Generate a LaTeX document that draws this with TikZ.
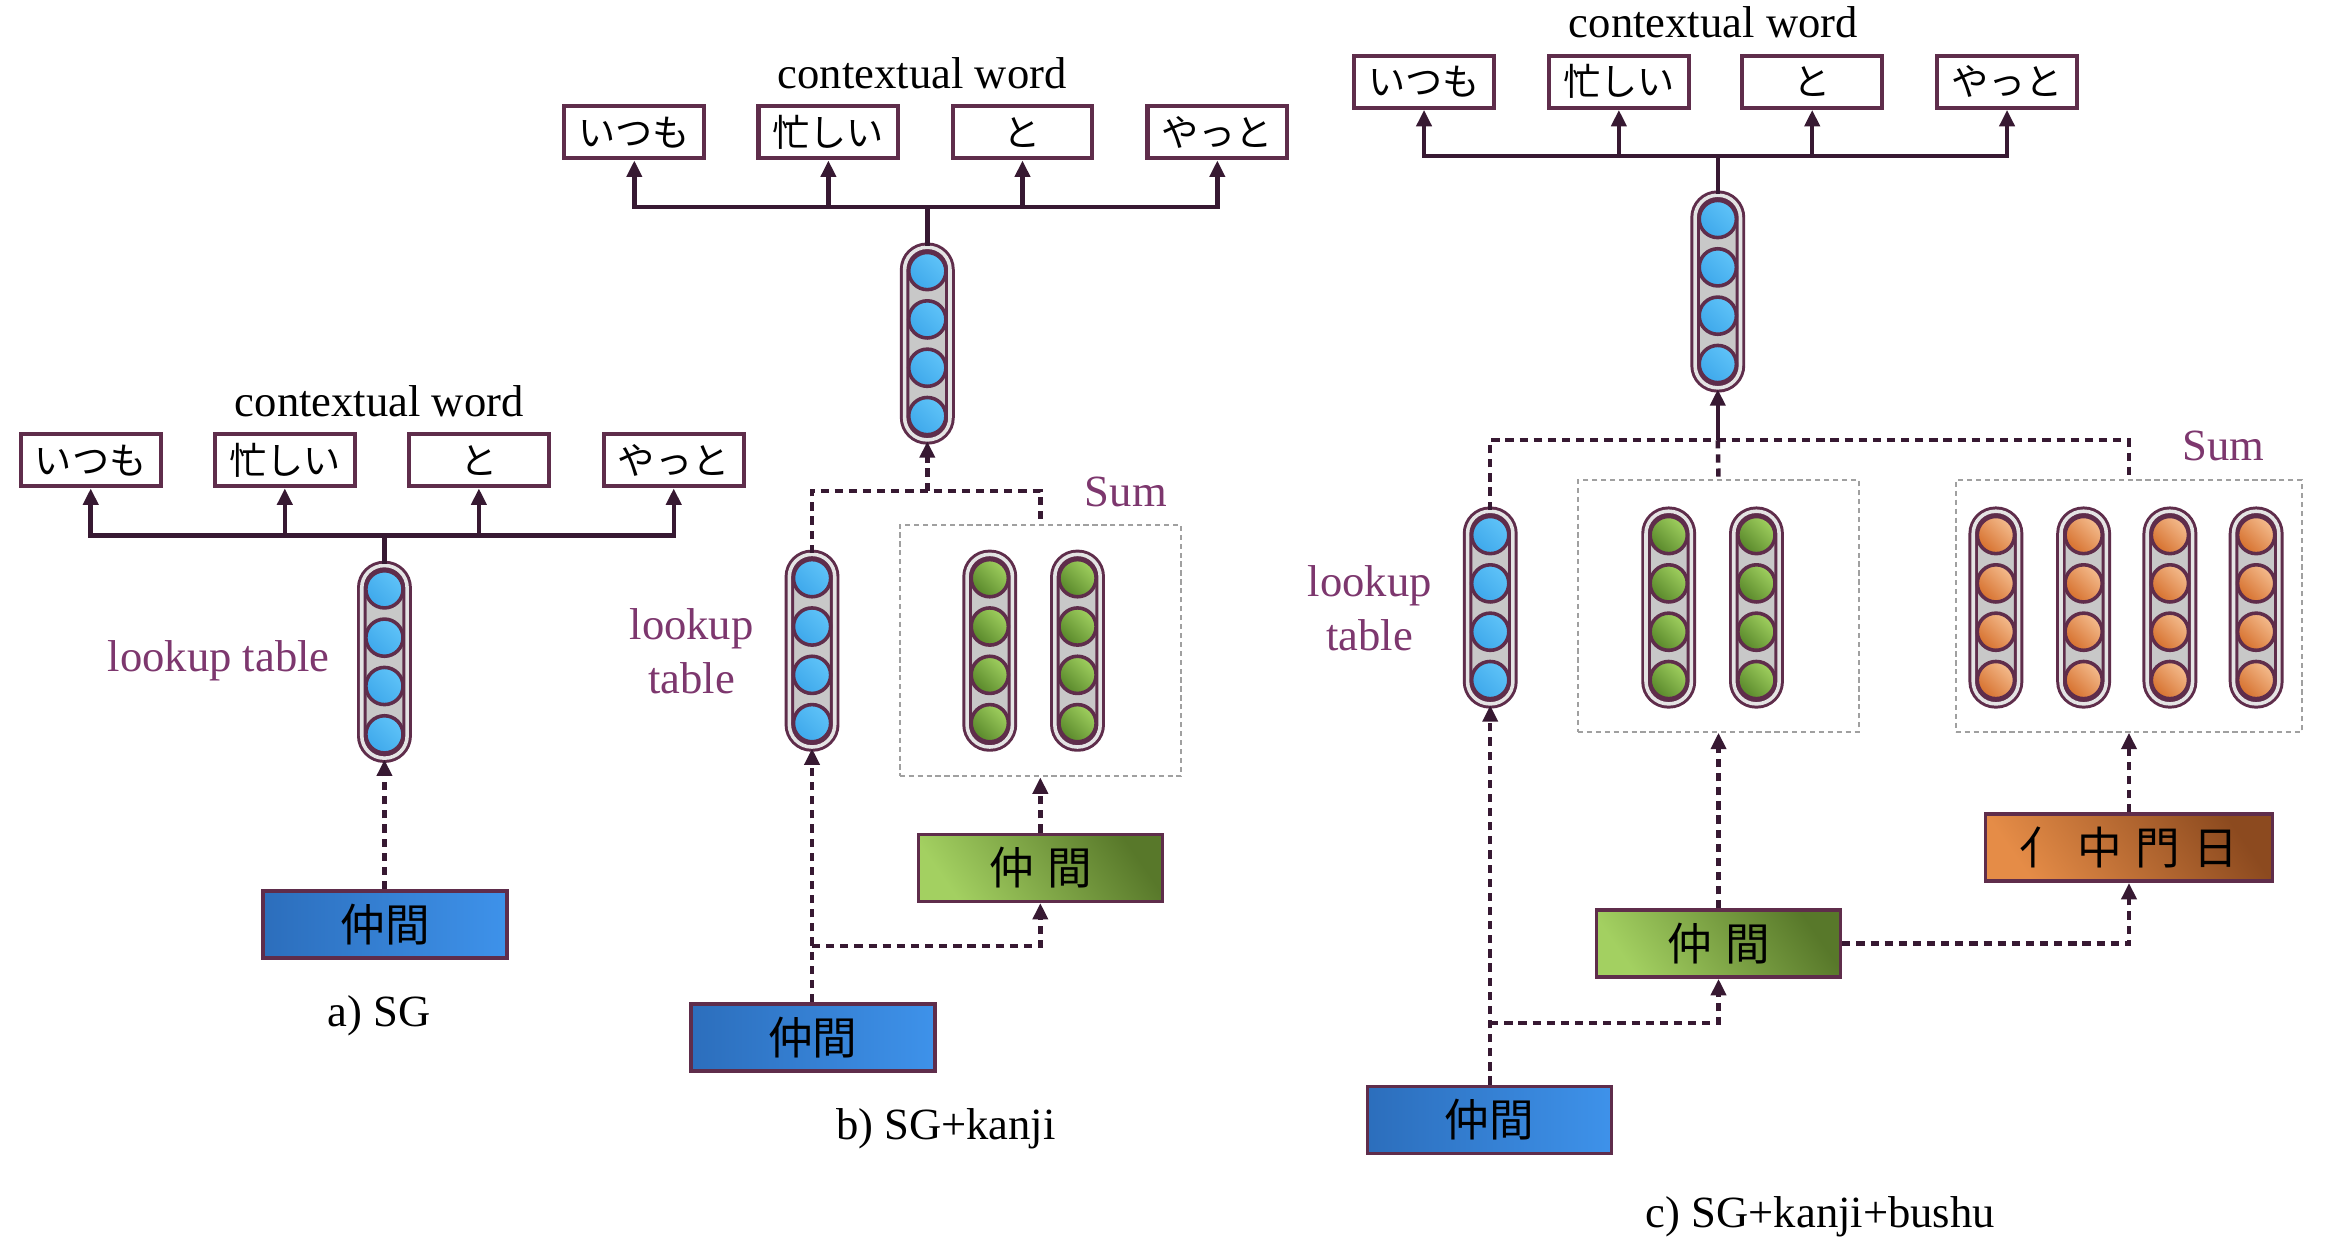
\documentclass[tikz,border=0pt]{standalone}
\usepackage{fontspec}
\setmainfont{Liberation Serif}
\newfontfamily\jp{Noto Sans CJK JP}
\usetikzlibrary{arrows.meta,calc}
\definecolor{bord}{RGB}{95,45,75}
\definecolor{arrc}{RGB}{55,25,50}
\definecolor{lblc}{RGB}{125,55,110}
\definecolor{pillgray}{RGB}{200,200,200}
\definecolor{ring}{RGB}{228,228,228}
\definecolor{sumgray}{RGB}{160,160,160}
\definecolor{cbA}{RGB}{62,168,235}
\definecolor{cbB}{RGB}{95,195,248}
\definecolor{cgD}{RGB}{88,135,42}
\definecolor{cgL}{RGB}{160,208,95}
\definecolor{coD}{RGB}{214,112,45}
\definecolor{coL}{RGB}{244,188,142}
\definecolor{bxA}{RGB}{44,110,188}
\definecolor{bxB}{RGB}{62,146,234}
\definecolor{gbL}{RGB}{163,208,97}
\definecolor{gbD}{RGB}{88,120,42}
\definecolor{obL}{RGB}{229,140,71}
\definecolor{obD}{RGB}{140,74,31}
\tikzset{
  wbox/.style={draw=bord, fill=white, line width=2.8pt, minimum width=94pt, minimum height=35pt, inner sep=0pt, font=\jp\fontsize{25}{25}\selectfont},
  ebox/.style={draw=bord, line width=2.4pt, minimum width=164pt, minimum height=45pt, inner sep=0pt, font=\jp\fontsize{30}{30}\selectfont, execute at begin node={\spaceskip=0.3em\relax}},
  bluebox/.style={ebox, left color=bxA, right color=bxB},
  greenbox/.style={ebox, bottom color=gbL, middle color=gbL!85!gbD, top color=gbD, shading angle=-55},
  orangebox/.style={ebox, minimum width=193pt, bottom color=obL, middle color=obL!85!obD, top color=obD, shading angle=-55},
  pill/.style={draw=bord, double=ring, double distance=2.4pt, line width=2pt, fill=pillgray, rounded corners=15pt, minimum width=30.5pt, minimum height=129.5pt, inner sep=0pt},
  cell/.style={circle, draw=bord, line width=2.4pt, minimum size=25pt, inner sep=0pt},
  bcell/.style={cell, bottom color=cbA, top color=cbB, shading angle=-45},
  gcell/.style={cell, bottom color=cgD, top color=cgL, shading angle=-45},
  ocell/.style={cell, bottom color=coD, top color=coL, shading angle=-45},
  ln/.style={draw=arrc, line width=3pt},
  arr/.style={ln, -{Triangle[length=11pt,width=10pt]}},
  dsh/.style={ln, dash pattern=on 5.5pt off 4pt},
  darr/.style={dsh, -{Triangle[length=11pt,width=10pt]}},
  sumbox/.style={draw=sumgray, line width=1.4pt, dash pattern=on 3.5pt off 2.5pt, inner sep=0pt},
  lbl/.style={text=lblc, font=\fontsize{30}{36}\selectfont, align=center},
  captxt/.style={font=\fontsize{30}{36}\selectfont},
}
\newcommand\mkvec[4]{%
  \node[pill] (#1) at (#2,#3) {};
  \foreach \k/\o in {1/-48.75,2/-16.25,3/16.25,4/48.75}
    \node[#4] (#1-\k) at ($(#1.center)+(0,\o)$) {};
}
\begin{document}
\begin{tikzpicture}[x=1pt,y=-1pt]
\useasboundingbox[fill=white] (0,0) rectangle (1568,847);

% ---------------- panel a ----------------
\node[captxt] (a-ctx) at (255,270) {contextual word};
\node[wbox] (a-w1) at (61,309.5) {いつも};
\node[wbox] (a-w2) at (191.5,309.5) {忙しい};
\node[wbox] (a-w3) at (322,309.5) {と};
\node[wbox] (a-w4) at (453,309.5) {やっと};
\mkvec{a-v}{258.5}{445}{bcell}
\coordinate (a-j) at (258.5,360);
\draw[ln] (a-v.north) -- (a-j);
\foreach \i in {1,...,4} \draw[arr] (a-j) -| (a-w\i.south);
\node[lbl] (a-lt) at (147,444) {lookup table};
\node[bluebox] (a-blue) at (259,621.5) {仲間};
\draw[darr] (a-v |- a-blue.north) -- (a-v.south);
\node[captxt] (a-cap) at (255,683) {a) SG};

% ---------------- panel b ----------------
\node[captxt] (b-ctx) at (620,49) {contextual word};
\node[wbox] (b-w1) at (426.5,89) {いつも};
\node[wbox] (b-w2) at (557,89) {忙しい};
\node[wbox] (b-w3) at (687.5,89) {と};
\node[wbox] (b-w4) at (818.5,89) {やっと};
\mkvec{b-v}{623.5}{231}{bcell}
\coordinate (b-top) at (623.5,139);
\draw[ln] (b-v.north) -- (b-top);
\foreach \i in {1,...,4} \draw[arr] (b-top) -| (b-w\i.south);
\node[sumbox, minimum width=189pt, minimum height=169pt] (b-sum) at (699.5,437.5) {};
\node[lbl] (b-sumlbl) at (757,331) {Sum};
\mkvec{b-lv}{546}{437.5}{bcell}
\mkvec{b-g1}{665.5}{437.5}{gcell}
\mkvec{b-g2}{724.5}{437.5}{gcell}
\node[lbl] (b-lt) at (465,438) {lookup\\table};
\coordinate (b-j) at (623.5,330);
\draw[darr] (b-j) -- (b-v.south);
\draw[dsh] (b-lv.north) -- (b-lv.north |- b-j) -- (b-sum.north |- b-j) -- (b-sum.north);
\node[greenbox] (b-green) at (699.5,583.5) {仲 間};
\node[bluebox] (b-blue) at (546.5,697.5) {仲間};
\draw[darr] (b-lv |- b-blue.north) -- (b-lv.south);
\coordinate (b-br) at (546,636);
\draw[darr] (b-br) -| (b-green.south);
\draw[darr] (b-green.north) -- (b-sum.south);
\node[captxt] (b-cap) at (636,759) {b) SG+kanji};

% ---------------- panel c ----------------
\node[captxt] (c-ctx) at (1152,15) {contextual word};
\node[wbox] (c-w1) at (957.5,55) {いつも};
\node[wbox] (c-w2) at (1088.5,55) {忙しい};
\node[wbox] (c-w3) at (1218.5,55) {と};
\node[wbox] (c-w4) at (1349.5,55) {やっと};
\mkvec{c-v}{1155}{196}{bcell}
\coordinate (c-top) at (1155,105);
\draw[ln] (c-v.north) -- (c-top);
\foreach \i in {1,...,4} \draw[arr] (c-top) -| (c-w\i.south);
\node[sumbox, minimum width=189pt, minimum height=169pt] (c-gsum) at (1155.5,407.5) {};
\node[sumbox, minimum width=233pt, minimum height=169pt] (c-osum) at (1431.5,407.5) {};
\node[lbl] (c-sumlbl) at (1495,300) {Sum};
\mkvec{c-lv}{1002}{408.5}{bcell}
\mkvec{c-g1}{1122}{408.5}{gcell}
\mkvec{c-g2}{1181}{408.5}{gcell}
\mkvec{c-o1}{1342}{408.5}{ocell}
\mkvec{c-o2}{1401}{408.5}{ocell}
\mkvec{c-o3}{1459}{408.5}{ocell}
\mkvec{c-o4}{1517}{408.5}{ocell}
\node[lbl] (c-lt) at (921,409) {lookup\\table};
\coordinate (c-j) at (1155,296);
\draw[arr] (c-j) -- (c-v.south);
\draw[dsh] (c-lv.north) -- (c-lv.north |- c-j) -- (c-osum.north |- c-j) -- (c-osum.north);
\draw[dsh] (c-j) -- (c-gsum.north);
\node[orangebox] (c-orange) at (1431.5,570) {亻 中 門 日};
\node[greenbox] (c-green) at (1155.5,634.5) {仲 間};
\node[bluebox] (c-blue) at (1001.5,753) {仲間};
\draw[darr] (c-lv |- c-blue.north) -- (c-lv.south);
\coordinate (c-br) at (1002,688);
\draw[darr] (c-br) -| (c-green.south);
\draw[darr] (c-green.east) -| (c-orange.south);
\draw[darr] (c-green.north) -- (c-gsum.south);
\draw[darr] (c-orange.north) -- (c-osum.south);
\node[captxt] (c-cap) at (1224,818) {c) SG+kanji+bushu};
\end{tikzpicture}
\end{document}
